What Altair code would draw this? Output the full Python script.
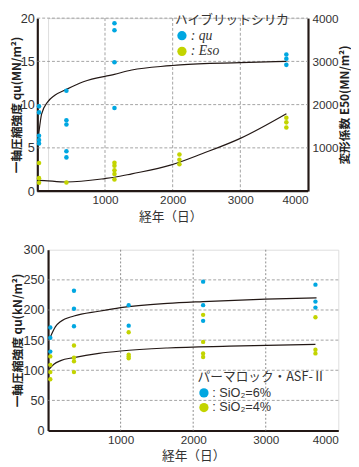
import altair as alt
import pandas as pd

# ---------------- top chart data (ハイブリットシリカ) ----------------
qu_days = [25, 25, 25, 25, 25, 430, 430, 430, 430, 430, 1140, 1140, 1140, 1140, 3680, 3680, 3680]
qu_vals = [9.8, 9.1, 6.4, 5.9, 5.5, 11.6, 8.2, 7.7, 4.6, 3.9, 19.4, 18.6, 14.9, 9.6, 15.8, 15.3, 14.6]

eso_days = [25, 25, 25, 430, 1140, 1140, 1140, 1140, 1140, 2100, 2100, 2100, 3680, 3680, 3680]
eso_vals = [650, 300, 195, 200, 655, 585, 480, 395, 270, 845, 725, 620, 1695, 1590, 1470]

qu_curve_days = [5, 24, 63, 157, 253, 430, 681, 1139, 1396, 1967, 2110, 3000, 3681]
qu_curve_vals = [5.5, 6.8, 8.9, 10.35, 11.05, 11.76, 12.64, 13.5, 14.0, 14.5, 14.6, 14.85, 15.0]

eso_curve_days = [0, 14, 430, 1000, 1140, 1396, 1967, 2443, 3000, 3681]
eso_curve_vals = [232, 250, 210, 290, 320, 400, 600, 870, 1220, 1790]

top_y_ticks = [0, 5, 10, 15, 20]
top_y2_ticks = [1000, 2000, 3000, 4000]
top_grid_y = [5, 10, 15, 20]
x_ticks = [1000, 2000, 3000, 4000]
grid_x = [1000, 2000, 3000]

# ---------------- bottom chart data (パーマロック・ASF-Ⅱ) ----------------
s6_days = [31, 31, 31, 357, 357, 357, 1111, 1111, 2137, 2137, 2137, 3685, 3685, 3685]
s6_vals = [171, 154, 131, 232, 202, 173, 208, 174, 247, 208, 182, 242, 214, 204]

s4_days = [31, 31, 31, 31, 357, 357, 357, 357, 1111, 1111, 1111, 1111, 2137, 2137, 2137, 2137, 3685, 3685, 3685]
s4_vals = [123, 109, 97, 85, 141, 121, 115, 97, 163, 126, 123, 120, 192, 147, 128, 122, 188, 134, 128]

s6_curve_days = [31, 100, 174, 357, 700, 1000, 1645, 2137, 3000, 3700]
s6_curve_vals = [155, 172, 181, 190, 198, 204, 211, 214, 218, 220]

s4_curve_days = [17, 80, 174, 357, 700, 1000, 1645, 2500, 3685]
s4_curve_vals = [102, 110, 116, 121, 128, 132, 137, 140, 143]

bot_y_ticks = [0, 50, 100, 150, 200, 250, 300]
bot_grid_y = [50, 100, 150, 200, 250]

BLUE = "#00a7e1"
GREEN = "#c3d400"
DARK = "#231815"
GRID = "#8a8a8a"
TXT = "#333333"
FONT = "Noto Sans CJK JP"
LATIN = "Liberation Sans, DejaVu Sans"

# ---------------- top chart ----------------
top_qu = pd.DataFrame({"day": qu_days, "v": qu_vals, "series": "qu"})
top_eso = pd.DataFrame({"day": eso_days, "v": eso_vals, "series": "Eso"})
top_qu_c = pd.DataFrame({"day": qu_curve_days, "v": qu_curve_vals})
top_eso_c = pd.DataFrame({"day": eso_curve_days, "v": eso_curve_vals})
top_gy = pd.DataFrame({"v": top_grid_y, "day": 0, "day2": 4000})
top_base = pd.DataFrame({"v": [0], "day": [0], "day2": [4000]})
gx = pd.DataFrame({"day": grid_x})

TOP_W = 266
xaxis_top = alt.Axis(values=x_ticks, format="d", grid=False, ticks=False, tickSize=0, labelPadding=4,
                     labelFont=LATIN, labelFontSize=12, labelColor=TXT, domain=False,
                     title="経年（日）", titleFontSize=13, titleFontWeight="normal",
                     titleColor=TXT, titlePadding=5, titleX=125, titleAlign="center")
xs_top = alt.Scale(domain=[0, 4000], nice=False, zero=False, range=[-11, TOP_W])
X_top = alt.X("day:Q", scale=xs_top, axis=xaxis_top)

yaxis_left = alt.Axis(values=top_y_ticks, grid=False, ticks=False, tickSize=0, labelPadding=3,
                      labelFont=LATIN, labelFontSize=13, labelColor=TXT, domainColor=DARK,
                      domainWidth=2.2, offset=11, title="一軸圧縮強度 qu(MN/m²)", titleFontSize=12,
                      titleFontWeight="bold", titleColor="#222222", minExtent=14, maxExtent=14,
                      titlePadding=0)
ys_left = alt.Scale(domain=[0, 20], nice=False)
Y_left = alt.Y("v:Q", scale=ys_left, axis=yaxis_left)

yaxis_right = alt.Axis(orient="right", values=top_y2_ticks, format="d", grid=False, ticks=False,
                       tickSize=0, labelPadding=4, labelFont=LATIN, labelFontSize=12, labelColor=TXT,
                       domainColor=DARK, domainWidth=2.2, title="変形係数 E50(MN/m²)", titleFontSize=12,
                       titleFontWeight="bold", titleColor="#222222", titleAngle=270,
                       titleBaseline="top", minExtent=31, maxExtent=31, titlePadding=1)
ys_right = alt.Scale(domain=[0, 4000], nice=False)
Y_right = alt.Y("v:Q", scale=ys_right, axis=yaxis_right)

color_top = alt.Color(
    "series:N",
    scale=alt.Scale(domain=["qu", "Eso"], range=[BLUE, GREEN]),
    legend=alt.Legend(orient="none", legendX=130, legendY=-4, title="ハイブリットシリカ",
                      titleFontSize=13, titleFontWeight="normal", titleColor=TXT, titleFont=FONT,
                      titlePadding=2, labelExpr="': ' + datum.label", labelFont="Liberation Serif",
                      labelFontStyle="italic", labelFontSize=14, labelColor=TXT,
                      symbolType="circle", symbolSize=90, symbolStrokeWidth=0,
                      rowPadding=2, labelOffset=2))

grid_h_top = alt.Chart(top_gy).mark_rule(color=GRID, strokeDash=[3, 2], strokeWidth=0.8).encode(
    x=X_top, x2="day2:Q", y=Y_left)
grid_v_top = alt.Chart(gx).mark_rule(color=GRID, strokeDash=[3, 2], strokeWidth=0.8).encode(x=X_top)
base_top = alt.Chart(top_base).mark_rule(color=DARK, strokeWidth=2.2).encode(
    x=X_top, x2="day2:Q", y=Y_left)
qu_line = alt.Chart(top_qu_c).mark_line(color=DARK, strokeWidth=1.2, interpolate="monotone").encode(x=X_top, y=Y_left)
qu_pts = alt.Chart(top_qu).mark_circle(size=22, opacity=1).encode(x=X_top, y=Y_left, color=color_top)

eso_line = alt.Chart(top_eso_c).mark_line(color=DARK, strokeWidth=1.2, interpolate="monotone").encode(x=X_top, y=Y_right)
eso_pts = alt.Chart(top_eso).mark_circle(size=22, opacity=1).encode(x=X_top, y=Y_right, color=color_top)

left_group = alt.layer(grid_h_top, grid_v_top, base_top, qu_line, qu_pts)
right_group = alt.layer(eso_line, eso_pts)
top = alt.layer(left_group, right_group).resolve_scale(y="independent").properties(width=TOP_W, height=177)

# ---------------- bottom chart ----------------
b6 = pd.DataFrame({"day": s6_days, "v": s6_vals, "series": "SiO₂=6%"})
b4 = pd.DataFrame({"day": s4_days, "v": s4_vals, "series": "SiO₂=4%"})
bpts = pd.concat([b6, b4])
b6c = pd.DataFrame({"day": s6_curve_days, "v": s6_curve_vals, "s": "6"})
b4c = pd.DataFrame({"day": s4_curve_days, "v": s4_curve_vals, "s": "4"})
bcurves = pd.concat([b6c, b4c])
bgy = pd.DataFrame({"v": bot_grid_y})

xaxis_bot = alt.Axis(values=x_ticks, format="d", grid=False, ticks=False, tickSize=0, labelPadding=4,
                     labelFont=LATIN, labelFontSize=12, labelColor=TXT, domainColor=DARK,
                     domainWidth=2.2, title="経年（日）", titleFontSize=13, titleFontWeight="normal",
                     titleColor=TXT, titlePadding=5)
X_bot = alt.X("day:Q", scale=alt.Scale(domain=[0, 4000], nice=False, zero=False), axis=xaxis_bot)
yaxis_bot = alt.Axis(values=bot_y_ticks, grid=False, ticks=False, tickSize=0, labelPadding=4,
                     labelFont=LATIN, labelFontSize=13, labelColor=TXT, domainColor=DARK,
                     domainWidth=2.2, title="一軸圧縮強度 qu(kN/m²)", titleFontSize=12,
                     titleFontWeight="bold", titleColor="#222222", minExtent=23, maxExtent=23,
                     titlePadding=1.5)
Y_bot = alt.Y("v:Q", scale=alt.Scale(domain=[0, 300], nice=False), axis=yaxis_bot)

color_bot = alt.Color(
    "series:N",
    scale=alt.Scale(domain=["SiO₂=6%", "SiO₂=4%"], range=[BLUE, GREEN]),
    legend=alt.Legend(orient="none", legendX=153, legendY=124, title="パーマロック・ASF-Ⅱ",
                      titleFontSize=13, titleFontWeight="normal", titleColor=TXT, titleFont=FONT,
                      titlePadding=3, labelExpr="': ' + datum.label", labelFont=LATIN,
                      labelFontSize=13, labelColor=TXT, symbolType="circle", symbolSize=90,
                      symbolStrokeWidth=0, rowPadding=1, labelOffset=2))

grid_h_bot = alt.Chart(bgy).mark_rule(color=GRID, strokeDash=[3, 2], strokeWidth=0.8).encode(y=Y_bot)
grid_v_bot = alt.Chart(gx).mark_rule(color=GRID, strokeDash=[2, 2], strokeWidth=1).encode(x=X_bot)
b_lines = alt.Chart(bcurves).mark_line(color=DARK, strokeWidth=1.2, interpolate="monotone").encode(
    x=X_bot, y=Y_bot, detail="s:N")
b_pts = alt.Chart(bpts).mark_circle(size=20, opacity=1).encode(x=X_bot, y=Y_bot, color=color_bot)

bottom = alt.layer(grid_h_bot, grid_v_bot, b_lines, b_pts).properties(width=297, height=185)

chart = alt.vconcat(top, bottom, spacing=19).resolve_scale(color="independent").resolve_legend(
    color="independent").properties(
    padding={"left": 2, "top": -2, "right": 0, "bottom": 0}
).configure_view(stroke=None).configure(font=FONT)

chart.save("out.html", embed_options={"renderer": "svg", "actions": False})
